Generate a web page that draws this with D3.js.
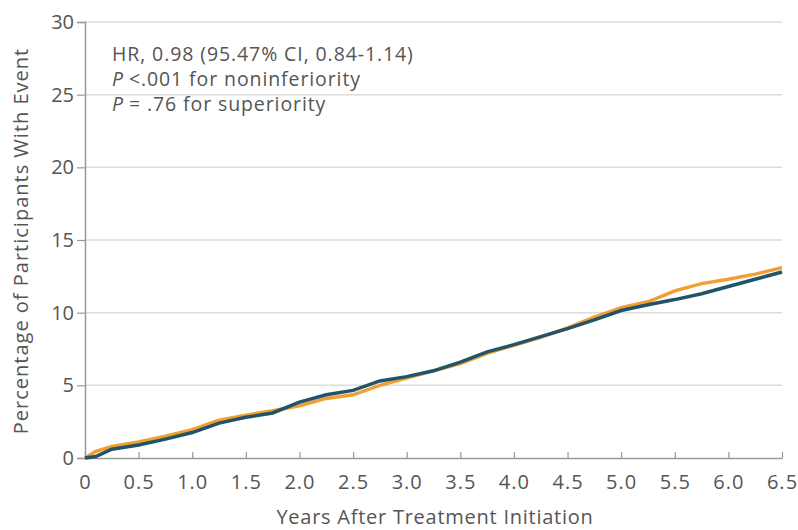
<!DOCTYPE html>
<html>
<head>
<meta charset="utf-8">
<script src="https://cdn.jsdelivr.net/npm/d3@7"></script>
<style>
  body { margin: 0; background: #fff; }
  text { font-family: "Open Sans", "Noto Sans", sans-serif; fill: #555; }
</style>
</head>
<body>
<svg id="chart" width="798" height="530"></svg>
<script>
// years after treatment initiation
var years = [0, 0.1, 0.25, 0.5, 0.75, 1.0, 1.25, 1.5, 1.75, 2.0, 2.25, 2.5, 2.75, 3.0,
  3.25, 3.5, 3.75, 4.0, 4.25, 4.5, 4.75, 5.0, 5.25, 5.5, 5.75, 6.0, 6.25, 6.5]
// percentage of participants with event, per arm
var orangeArm = [0, 0.45, 0.8, 1.1, 1.5, 1.95, 2.6, 2.95, 3.25, 3.6, 4.1, 4.35, 5.0, 5.5,
  6.0, 6.5, 7.2, 7.75, 8.3, 8.95, 9.7, 10.35, 10.75, 11.5, 12.0, 12.3, 12.65, 13.1]
var tealArm = [0, 0.1, 0.6, 0.9, 1.3, 1.75, 2.4, 2.8, 3.1, 3.85, 4.35, 4.65, 5.3, 5.6,
  6.0, 6.6, 7.3, 7.8, 8.35, 8.9, 9.5, 10.15, 10.55, 10.9, 11.3, 11.8, 12.3, 12.8]
var xTicks = [0, 0.5, 1, 1.5, 2, 2.5, 3, 3.5, 4, 4.5, 5, 5.5, 6, 6.5]
var yTicks = [0, 5, 10, 15, 20, 25, 30]
var notes = ["HR, 0.98 (95.47% CI, 0.84-1.14)", "<.001 for noninferiority", "= .76 for superiority"]

var svg = d3.select("#chart")
var margin = { top: 22, left: 85, bottom: 72, right: 16 }
var width = 798 - margin.left - margin.right
var height = 530 - margin.top - margin.bottom

var x = d3.scaleLinear().domain([0, 6.5]).range([0, width])
var y = d3.scaleLinear().domain([0, 30]).range([height, 0])

var g = svg.append("g")
  .attr("transform", `translate(${margin.left},${margin.top})`)

// grid
g.selectAll(".grid")
  .data(yTicks.filter(function (d) { return d > 0 }))
  .join("line")
  .attr("x1", 0).attr("x2", width)
  .attr("y1", function (d) { return y(d) }).attr("y2", function (d) { return y(d) })
  .attr("stroke", "#dcdcdc").attr("stroke-width", 1.5)

// y axis
var yAxis = g.append("g")
  .call(d3.axisLeft(y).tickValues(yTicks).tickSize(8).tickPadding(3))
yAxis.select(".domain").attr("stroke", "#999").attr("stroke-width", 1.5)
yAxis.selectAll(".tick line").attr("stroke", "#999").attr("stroke-width", 1.2)
yAxis.selectAll(".tick text").attr("font-size", 20).attr("fill", "#555")

// x axis, ticks pointing up into the plot
var xAxis = g.append("g")
  .attr("transform", `translate(0,${height})`)
  .call(d3.axisBottom(x).tickValues(xTicks).tickSizeInner(-6).tickSizeOuter(0).tickPadding(17)
    .tickFormat(function (d) { return d === 0 ? "0" : d3.format(".1f")(d) }))
xAxis.select(".domain").attr("stroke", "#999").attr("stroke-width", 1.5)
xAxis.selectAll(".tick line").attr("stroke", "#999").attr("stroke-width", 1.2)
xAxis.selectAll(".tick text").attr("font-size", 20).attr("letter-spacing", 1).attr("fill", "#555")

// curves
var line = d3.line()
  .x(function (d, i) { return x(years[i]) })
  .y(function (d) { return y(d) })

g.append("path").datum(orangeArm)
  .attr("d", line).attr("fill", "none")
  .attr("stroke", "#f0a032").attr("stroke-width", 3.5)
g.append("path").datum(tealArm)
  .attr("d", line).attr("fill", "none")
  .attr("stroke", "#215469").attr("stroke-width", 3.5)

// annotation
var ann = g.append("text").attr("x", 27).attr("y", 39)
  .attr("font-size", 19.5).attr("letter-spacing", 0.9)
ann.append("tspan").text(notes[0])
ann.append("tspan").attr("x", 27).attr("dy", 25).attr("font-style", "italic").text("P")
ann.append("tspan").attr("dx", 5).text(notes[1])
ann.append("tspan").attr("x", 27).attr("dy", 25).attr("font-style", "italic").text("P")
ann.append("tspan").attr("dx", 5).text(notes[2])

// axis titles
svg.append("text")
  .attr("x", 435).attr("y", 524)
  .attr("text-anchor", "middle").attr("font-size", 20).attr("letter-spacing", 0.75)
  .text("Years After Treatment Initiation")
svg.append("text")
  .attr("transform", "translate(28,241) rotate(-90)")
  .attr("text-anchor", "middle").attr("font-size", 20).attr("letter-spacing", 1)
  .text("Percentage of Participants With Event")
</script>
</body>
</html>
